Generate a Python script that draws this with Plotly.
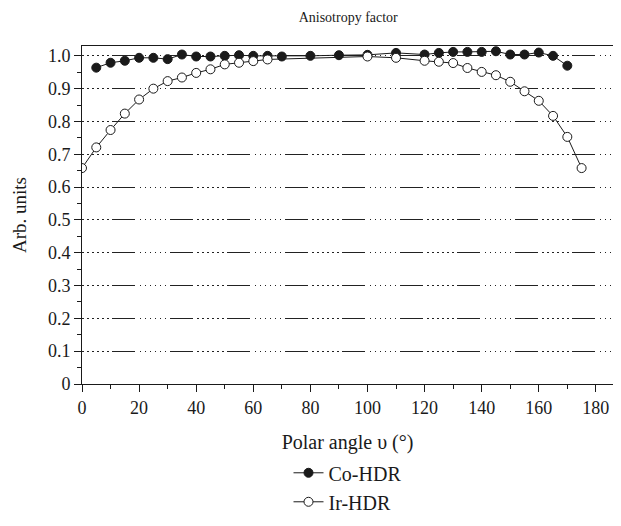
import plotly.graph_objects as go

# Data
co_angle = [5, 10, 15, 20, 25, 30, 35, 40, 45, 50, 55, 60, 65, 70, 80, 90, 100, 110,
            120, 125, 130, 135, 140, 145, 150, 155, 160, 165, 170]
co_values = [0.964, 0.979, 0.985, 0.994, 0.994, 0.990, 1.004, 0.998, 0.998, 1.000,
             1.002, 1.000, 1.000, 0.998, 1.000, 1.002, 1.003, 1.009,
             1.004, 1.009, 1.012, 1.012, 1.012, 1.014, 1.004, 1.004, 1.010, 1.000, 0.970]

ir_angle = [0, 5, 10, 15, 20, 25, 30, 35, 40, 45, 50, 55, 60, 65, 100, 110,
            120, 125, 130, 135, 140, 145, 150, 155, 160, 165, 170, 175]
ir_values = [0.658, 0.721, 0.774, 0.824, 0.867, 0.900, 0.923, 0.934, 0.948, 0.959,
             0.974, 0.979, 0.984, 0.989, 0.998, 0.994,
             0.985, 0.982, 0.978, 0.963, 0.951, 0.941, 0.921, 0.892, 0.863, 0.817,
             0.753, 0.658]

x_ticks = [0, 20, 40, 60, 80, 100, 120, 140, 160, 180]
y_ticks = [0, 0.1, 0.2, 0.3, 0.4, 0.5, 0.6, 0.7, 0.8, 0.9, 1.0]
y_tick_labels = ["0", "0.1", "0.2", "0.3", "0.4", "0.5", "0.6", "0.7", "0.8", "0.9", "1.0"]

FONT = "Liberation Serif"
INK = "#1a1a1a"

fig = go.Figure()
fig.add_trace(go.Scatter(
    x=co_angle, y=co_values, name="Co-HDR", mode="lines+markers",
    line=dict(color=INK, width=1),
    marker=dict(symbol="circle", size=9, color=INK, line=dict(color=INK, width=1)),
    legendgroup="a",
))
fig.add_trace(go.Scatter(
    x=ir_angle, y=ir_values, name="Ir-HDR", mode="lines+markers",
    line=dict(color=INK, width=1),
    marker=dict(symbol="circle", size=9, color="white", line=dict(color=INK, width=1)),
    legendgroup="b",
))

dots = ",".join(["1.5px,3.5px"] * 6)
grid_dash = dots + ",23px,4.5px"

# page body has an 8px margin, so the figure is sized to fit inside the window
fig.update_layout(
    width=613, height=518,
    margin=dict(l=74, r=8, t=38, b=142, autoexpand=False),
    paper_bgcolor="white", plot_bgcolor="white",
    font=dict(family=FONT, size=20, color=INK),
    title=dict(text="Anisotropy factor", x=0.555, xanchor="center", y=0.983, yanchor="middle",
               font=dict(family=FONT, size=14, color=INK)),
    showlegend=True,
    legend=dict(x=0.5, xanchor="center", y=-0.205, yanchor="top", orientation="v",
                traceorder="grouped", tracegroupgap=0,
                font=dict(family=FONT, size=20, color=INK),
                bgcolor="rgba(0,0,0,0)"),
)
fig.update_xaxes(
    range=[0, 186], tickvals=x_ticks, ticks="outside", ticklen=7, tickwidth=1,
    tickcolor=INK, showline=True, linecolor=INK, linewidth=1, mirror=True,
    showgrid=False, zeroline=False,
    minor=dict(dtick=10, tick0=0, ticks="outside", ticklen=4, tickcolor=INK, showgrid=False),
    title=dict(text="Polar angle υ (°)", standoff=18, font=dict(family=FONT, size=20)),
    tickfont=dict(family=FONT, size=18),
)
fig.update_yaxes(
    range=[0, 1.03], tickvals=y_ticks, ticktext=y_tick_labels, ticks="outside", ticklen=7,
    tickwidth=1, tickcolor=INK, showline=True, linecolor=INK, linewidth=1,
    mirror=True, showgrid=True, gridcolor="#222222", gridwidth=1, griddash=grid_dash,
    zeroline=False,
    minor=dict(dtick=0.05, tick0=0, ticks="outside", ticklen=4, tickcolor=INK, showgrid=False),
    title=dict(text="Arb. units", standoff=16, font=dict(family=FONT, size=19)),
    tickfont=dict(family=FONT, size=18),
)

fig.write_html("out.html")
